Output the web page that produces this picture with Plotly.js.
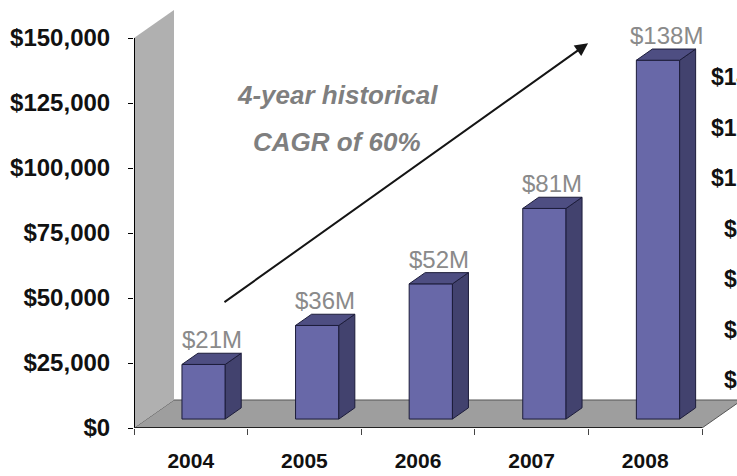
<!DOCTYPE html>
<html><head><meta charset="utf-8">
<script src="https://cdn.plot.ly/plotly-3.0.1.min.js"></script>
<style>html,body{margin:0;padding:0;overflow:hidden;background:#fff}</style>
</head><body><div id="chart" style="width:737px;height:476px"></div>
<script>
// ---- data ----
const years = ["2004", "2005", "2006", "2007", "2008"];
const revenueM = [21, 36, 52, 81, 138];
const barLabels = ["$21M", "$36M", "$52M", "$81M", "$138M"];
const yTickVals = [0, 25000, 50000, 75000, 100000, 125000, 150000];
const yTickText = ["$0", "$25,000", "$50,000", "$75,000", "$100,000", "$125,000", "$150,000"];
const rightTickVals = [140000, 120000, 100000, 80000, 60000, 40000, 20000];
const rightTickText = ["$140,000", "$120,000", "$100,000", "$80,000", "$60,000", "$40,000", "$20,000"];
const noteLines = ["4-year historical", "CAGR of 60%"];

// ---- 3D look (styling constants) ----
const FLOOR_DX = 0.352, FLOOR_DY = 10770;   // depth vector in axis units
const FRONT = 0.32, BACK = 0.72;            // bar front/back as fraction of depth
const BAR_W = 0.381;
const X0 = -0.5, X1 = 4.5, YTOP = 150000;

const xIdx = years.map((_, i) => i);
const values = revenueM.map(v => v * 1000);
const baseY = FRONT * FLOOR_DY, offX = FRONT * FLOOR_DX;
const dDX = (BACK - FRONT) * FLOOR_DX, dDY = (BACK - FRONT) * FLOOR_DY;

const traces = [];
traces.push({
  type: 'bar', x: xIdx.map(i => i + offX), y: values, base: baseY, width: BAR_W,
  marker: {color: '#6868a8', line: {color: '#1c1c3a', width: 1}},
  hoverinfo: 'skip', showlegend: false
});
xIdx.forEach((i, k) => {
  const xl = i + offX - BAR_W / 2, xr = xl + BAR_W;
  const y0 = baseY, y1 = values[k] + baseY;
  traces.push({
    type: 'scatter', mode: 'lines', fill: 'toself', fillcolor: '#42426e',
    x: [xr, xr + dDX, xr + dDX, xr, xr], y: [y0, y0 + dDY, y1 + dDY, y1, y0],
    line: {color: '#1c1c3a', width: 1}, hoverinfo: 'skip', showlegend: false
  });
  traces.push({
    type: 'scatter', mode: 'lines', fill: 'toself', fillcolor: '#4e4e82',
    x: [xl, xr, xr + dDX, xl + dDX, xl], y: [y1, y1, y1 + dDY, y1 + dDY, y1],
    line: {color: '#1c1c3a', width: 1}, hoverinfo: 'skip', showlegend: false
  });
});

const font = 'Liberation Sans, Arial, sans-serif';
const annotations = [];
xIdx.forEach((i, k) => {
  annotations.push({
    x: i + offX + dDX / 2, y: values[k] + baseY + dDY, xref: 'x', yref: 'y',
    text: barLabels[k], showarrow: false, yanchor: 'bottom', xanchor: 'center', yshift: -2,
    font: {family: font, size: 24, color: '#8a8a8a'}
  });
});
annotations.push({
  x: 3.497, y: 148000, ax: 0.283, ay: 48000, xref: 'x', yref: 'y', axref: 'x', ayref: 'y',
  text: '', showarrow: true, arrowhead: 2, arrowsize: 1.3, arrowwidth: 2, arrowcolor: '#151515',
  standoff: 0, startstandoff: 0
});
[128000, 110000].forEach((yy, k) => {
  annotations.push({
    x: 1.287, y: yy, xref: 'x', yref: 'y', text: noteLines[k], showarrow: false,
    xanchor: 'center', yanchor: 'middle',
    font: {family: font, size: 26, color: '#7f7f7f', style: 'italic', weight: 'bold'}
  });
});
rightTickVals.forEach((v, k) => {
  annotations.push({
    x: 1.119, y: v, xref: 'paper', yref: 'y2', text: rightTickText[k], showarrow: false,
    xanchor: 'right', yanchor: 'middle',
    font: {family: font, size: 23, color: '#111', weight: 'bold'}
  });
});

const shapes = [
  {type: 'path', layer: 'below', xref: 'x', yref: 'y',
   path: `M ${X0},0 L ${X1},0 L ${X1 + FLOOR_DX},${FLOOR_DY} L ${X0 + FLOOR_DX},${FLOOR_DY} Z`,
   fillcolor: '#9e9e9e', line: {color: '#555', width: 1}},
  {type: 'path', layer: 'below', xref: 'x', yref: 'y',
   path: `M ${X0},0 L ${X0},${YTOP} L ${X0 + FLOOR_DX},${YTOP + FLOOR_DY} L ${X0 + FLOOR_DX},${FLOOR_DY} Z`,
   fillcolor: '#b0b0b0', line: {width: 0}},
  {type: 'line', xref: 'x', yref: 'y', x0: X0, x1: X0, y0: 0, y1: YTOP, line: {color: '#000', width: 2}},
  {type: 'line', xref: 'x', yref: 'y', x0: X0, x1: X1, y0: 0, y1: 0, line: {color: '#222', width: 2}}
];

const layout = {
  width: 737, height: 476,
  margin: {l: 134, r: 0, t: 10, b: 48},
  paper_bgcolor: '#fff', plot_bgcolor: '#fff',
  showlegend: false,
  xaxis: {
    range: [X0, 4.808], tickmode: 'array', tickvals: xIdx, ticktext: years,
    ticks: '', showline: false, showgrid: false, zeroline: false, fixedrange: true,
    ticklabelstandoff: 18,
    tickfont: {family: font, size: 21, color: '#111', weight: 'bold'},
    minor: {tickmode: 'array', tickvals: [-0.5, 0.5, 1.5, 2.5, 3.5, 4.5], ticks: 'outside',
            ticklen: 6, tickcolor: '#444', tickwidth: 1, showgrid: false}
  },
  yaxis: {
    range: [0, 160769], tickmode: 'array', tickvals: yTickVals, ticktext: yTickText,
    ticks: 'outside', ticklen: 5, tickcolor: '#000', showline: false, showgrid: false,
    zeroline: false, fixedrange: true, ticklabelstandoff: 13,
    tickfont: {family: font, size: 24, color: '#111', weight: 'bold'}
  },
  yaxis2: {overlaying: 'y', range: [990, 166535], visible: false, fixedrange: true},
  shapes: shapes,
  annotations: annotations
};

Plotly.newPlot('chart', traces, layout, {displayModeBar: false, staticPlot: true});
</script>
</body></html>
